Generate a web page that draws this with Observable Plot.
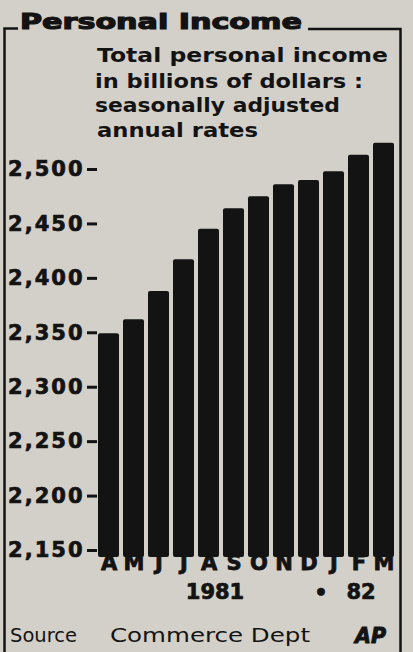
<!DOCTYPE html>
<html>
<head>
<meta charset="utf-8">
<script src="https://cdn.jsdelivr.net/npm/d3@7"></script>
<script src="https://cdn.jsdelivr.net/npm/@observablehq/plot@0.6"></script>
<style>
html, body { margin: 0; padding: 0; background: #d3d0c9; overflow: hidden; }
#wrap { position: relative; width: 413px; height: 652px; overflow: hidden; background: #d3d0c9; }
#wrap svg { position: absolute; left: 0; top: 0; }
</style>
</head>
<body>
<div id="wrap"></div>
<script>
// ---- data ----
const months = ["A", "M", "J", "J", "A", "S", "O", "N", "D", "J", "F", "M"];
const monthKeys = ["1981-04", "1981-05", "1981-06", "1981-07", "1981-08", "1981-09",
                   "1981-10", "1981-11", "1981-12", "1982-01", "1982-02", "1982-03"];
const income = [2349, 2362, 2388, 2417, 2445, 2464, 2475, 2486, 2490, 2498, 2513, 2524];
const yTicks = [2150, 2200, 2250, 2300, 2350, 2400, 2450, 2500];
const yearLabels = ["1981", "•", "82"];
const yearKeys = ["1981-08", "1981-12", "1982-02"];
const titleText = "Personal Income";
const subtitleLines = ["Total personal income", "in billions of dollars :", "seasonally adjusted", "annual rates"];
const sourceLabel = "Source";
const sourceName = "Commerce Dept";
const logoText = "AP";

const data = monthKeys.map((k, i) => ({ key: k, month: months[i], value: income[i] }));
const years = yearKeys.map((k, i) => ({ key: k, label: yearLabels[i] }));

const ink = "#131313";
const yearDx = [6, 12, 2];
const yearDy = [42, 43, 42];

const chart = Plot.plot({
  width: 413,
  height: 652,
  marginLeft: 97,
  marginRight: 18,
  marginTop: 169,
  marginBottom: 102,
  style: { background: "transparent", fontFamily: "DejaVu Sans", color: ink, overflow: "visible" },
  x: { type: "band", domain: monthKeys, paddingInner: 0.17, paddingOuter: 0, align: 0.5, axis: null, label: null },
  y: { domain: [2150, 2500], axis: null, label: null },
  marks: [
    Plot.barY(data, { x: "key", y1: 2150, y2: "value", fill: ink, insetBottom: -7, rx: 2 }),
    Plot.axisY(yTicks, {
      anchor: "left", label: null, tickSize: 10, tickPadding: 3,
      tickFormat: d3.format(","), fontSize: 21, fontWeight: "bold",
      stroke: ink, strokeWidth: 3, fill: ink
    }),
    Plot.axisX({
      anchor: "bottom", label: null, tickSize: 0, tickPadding: 5,
      tickFormat: k => months[monthKeys.indexOf(k)],
      fontSize: 21, fontWeight: "bold", fill: ink
    }),
    ...years.map((d, i) => Plot.text([d], {
      x: "key", text: "label", frameAnchor: "bottom", lineAnchor: "middle",
      dy: yearDy[i], dx: yearDx[i], fontFamily: "DejaVu Sans",
      fontSize: 21, fontWeight: "bold", fill: ink, stroke: ink, strokeWidth: 0.7
    }))
  ]
});

d3.select(chart).selectAll('g[aria-label="y-axis tick label"] text')
  .style("letter-spacing", "2px").attr("stroke", ink).attr("stroke-width", 0.7);
d3.select(chart).selectAll('g[aria-label="x-axis tick label"] text')
  .attr("stroke", ink).attr("stroke-width", 0.8);

const wrap = document.getElementById("wrap");
wrap.appendChild(chart);

// ---- overlay: frame, title, subtitle, source ----
const ov = d3.create("svg").attr("width", 413).attr("height", 652)
  .attr("font-family", "DejaVu Sans").attr("fill", ink);

// frame
const fr = ov.append("g").attr("stroke", ink).attr("stroke-width", 2.5).attr("fill", "none");
fr.append("path").attr("d", "M18,28.5 H4.5 V652");
fr.append("path").attr("d", "M308,29 H400.5 V652");

function addText(str, x, y, len, size, weight, extra) {
  const t = ov.append("text").attr("x", x).attr("y", y)
    .attr("font-size", size).attr("font-weight", weight)
    .attr("textLength", len).attr("lengthAdjust", "spacingAndGlyphs")
    .text(str);
  if (extra) extra(t);
  return t;
}

addText(titleText, 20, 29, 282, 22, "bold", t => t.attr("stroke", ink).attr("stroke-width", 1.2));

const subX = [97, 95, 95, 97];
const subY = [62, 88, 112, 137];
const subW = [291, 268, 245, 161];
subtitleLines.forEach((s, i) => addText(s, subX[i], subY[i], subW[i], 20, "bold"));

addText(sourceLabel, 10, 642, 67, 19, "normal");
addText(sourceName, 110, 642, 200, 19, "normal");
addText(logoText, 355, 643, 31, 22, "bold", t => t.attr("font-style", "italic").attr("stroke", ink).attr("stroke-width", 1));

wrap.appendChild(ov.node());
</script>
</body>
</html>
